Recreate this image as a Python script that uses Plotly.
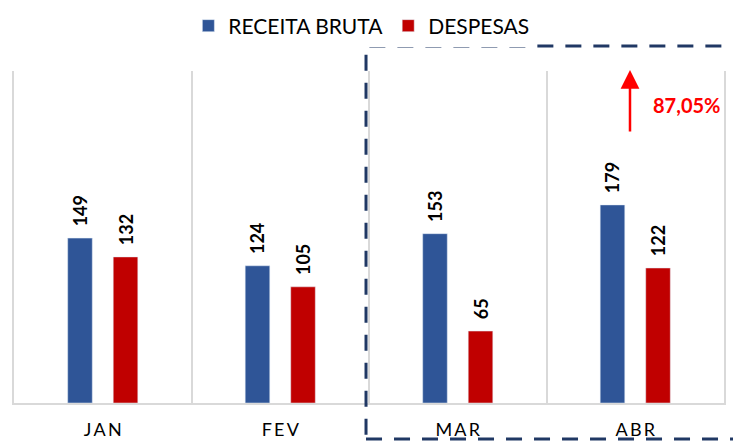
import plotly.graph_objects as go

months = ["JAN", "FEV", "MAR", "ABR"]
month_labels = ["J\u2009A\u2009N", "F\u2009E\u2009V", "M\u2009A\u2009R", "A\u2009B\u2009R"]
receita = [149, 124, 153, 179]
despesas = [132, 105, 65, 122]
growth_label = "87,05%"

FONT = "Lato"
LABEL_FONT = dict(family=FONT, size=18, color="#000000", weight="bold")

fig = go.Figure()
fig.add_trace(go.Bar(
    name="RECEITA BRUTA", x=months, y=receita, marker_color="#2F5597",
    texttemplate="\u00a0\u00a0%{y}", textposition="outside", textangle=-90, cliponaxis=False,
    constraintext="none", textfont=LABEL_FONT,
))
fig.add_trace(go.Bar(
    name="DESPESAS", x=months, y=despesas, marker_color="#C00000",
    texttemplate="\u00a0\u00a0%{y}", textposition="outside", textangle=-90, cliponaxis=False,
    constraintext="none", textfont=LABEL_FONT,
))

fig.update_layout(
    width=733, height=442,
    margin=dict(l=14, r=9, t=71, b=39, autoexpand=False),
    paper_bgcolor="white", plot_bgcolor="white",
    barmode="group", bargap=0.487, bargroupgap=0.46,
    font=dict(family=FONT, color="#000000"),
    showlegend=True,
    legend=dict(orientation="h", x=0.493, xref="container", xanchor="center",
                y=1 - 26 / 442, yref="container", yanchor="middle",
                font=dict(family=FONT, size=21, color="#000000"),
                itemwidth=30, traceorder="normal"),
    uniformtext=dict(mode=False),
)
fig.update_xaxes(
    type="category", range=[-0.5, 3.5], tickson="boundaries",
    tickvals=months, ticktext=month_labels,
    showgrid=True, gridcolor="#D9D9D9", gridwidth=2,
    showline=True, linecolor="#D9D9D9", linewidth=2,
    ticks="", ticklabelstandoff=9,
    tickfont=dict(family=FONT, size=18, color="#000000"),
    zeroline=False,
)
fig.update_yaxes(range=[0, 300], showticklabels=False, ticks="", showgrid=False, zeroline=False,
                 showline=True, mirror=True, linecolor="#D9D9D9", linewidth=2)

# dashed highlight box around MAR-ABR (paper coords so it can extend beyond the plot area)
fig.add_shape(type="rect", xref="paper", yref="paper", x0=0.4958, x1=1.12, y0=-0.1084, y1=1.0753,
              line=dict(color="#203864", width=3, dash="16px,12px"), layer="above")

# growth arrow
fig.add_annotation(x=0.8676, y=1.003, xref="paper", yref="paper", ax=0, ay=63,
                   showarrow=True, arrowhead=2, arrowsize=1.5, arrowwidth=2.5, arrowcolor="#FF0000", text="")
fig.add_annotation(x=0.9465, y=0.8976, xref="paper", yref="paper", xanchor="center", yanchor="middle",
                   text=growth_label, showarrow=False,
                   font=dict(family=FONT, size=20, color="#FF0000", weight="bold"))

fig.write_html("out.html", config={"displayModeBar": False},
               post_script="document.body.style.margin='0';")
